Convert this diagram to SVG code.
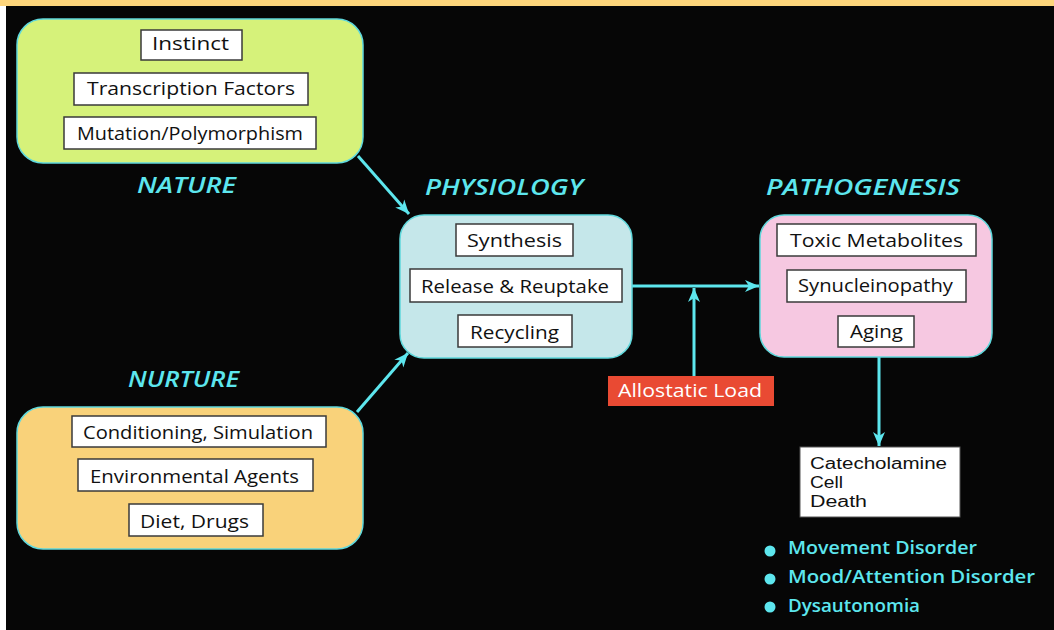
<svg xmlns="http://www.w3.org/2000/svg" width="1054" height="630" viewBox="0 0 1054 630">
<defs>
<style>
.outer{stroke:#5fd8dc;stroke-width:1.5}
.inner{fill:#ffffff;stroke:#3a3a3a;stroke-width:1.5}
.t{font-family:"Open Sans","Liberation Sans",sans-serif;font-size:18.5px;fill:#111111}
.s{font-family:"Liberation Sans",Arial,sans-serif;font-size:16px;fill:#111111}
.h{font-family:"Open Sans","Liberation Sans",sans-serif;font-size:22px;font-style:italic;font-weight:600;fill:#5de6ee}
.b{font-family:"Open Sans","Liberation Sans",sans-serif;font-size:18px;font-weight:600;fill:#5de6ee}
.w{font-family:"Open Sans","Liberation Sans",sans-serif;font-size:18.5px;fill:#ffffff}
.c{stroke:#5de6ee;stroke-width:3;fill:none}
</style>
<marker id="ah" markerUnits="userSpaceOnUse" markerWidth="16" markerHeight="14" refX="14" refY="7" orient="auto">
<path d="M0,1 L14,7 L0,13 L4,7 Z" fill="#5de6ee"/>
</marker>
</defs>
<rect x="0" y="0" width="1054" height="630" fill="#060606"/>
<rect x="0" y="0" width="6" height="630" fill="#ffffff"/>
<rect x="0" y="0" width="1054" height="6" fill="#fdd57b"/>

<g id="connectors">
<line class="c" x1="358" y1="156" x2="409" y2="214" marker-end="url(#ah)"/>
<line class="c" x1="357" y1="412" x2="408" y2="353" marker-end="url(#ah)"/>
<line class="c" x1="632" y1="286" x2="759" y2="286" marker-end="url(#ah)"/>
<line class="c" x1="694" y1="376" x2="694" y2="288" marker-end="url(#ah)"/>
<line class="c" x1="879" y1="357" x2="879" y2="446" marker-end="url(#ah)"/>
</g>

<g id="nature">
<rect class="outer" x="17" y="19" width="346" height="144" rx="26" fill="#d6f27a"/>
<rect class="inner" x="141" y="30" width="101" height="30"/>
<text class="t" x="152" y="50" textLength="77" lengthAdjust="spacingAndGlyphs">Instinct</text>
<rect class="inner" x="74" y="73" width="234" height="32"/>
<text class="t" x="87" y="95" textLength="208" lengthAdjust="spacingAndGlyphs">Transcription Factors</text>
<rect class="inner" x="64" y="117" width="252" height="32"/>
<text class="t" x="77" y="140" textLength="226" lengthAdjust="spacingAndGlyphs">Mutation/Polymorphism</text>
<text class="h" x="137" y="193" textLength="99" lengthAdjust="spacingAndGlyphs">NATURE</text>
</g>

<g id="nurture">
<rect class="outer" x="17" y="407" width="346" height="142" rx="26" fill="#f9d27a"/>
<rect class="inner" x="72" y="416" width="254" height="31"/>
<text class="t" x="83" y="439" textLength="230" lengthAdjust="spacingAndGlyphs">Conditioning, Simulation</text>
<rect class="inner" x="78" y="459" width="235" height="32"/>
<text class="t" x="90" y="483" textLength="209" lengthAdjust="spacingAndGlyphs">Environmental Agents</text>
<rect class="inner" x="129" y="504" width="134" height="32"/>
<text class="t" x="140" y="528" textLength="109" lengthAdjust="spacingAndGlyphs">Diet, Drugs</text>
<text class="h" x="128" y="387" textLength="111" lengthAdjust="spacingAndGlyphs">NURTURE</text>
</g>

<g id="physiology">
<rect class="outer" x="400" y="215" width="232" height="143" rx="24" fill="#c5e7ea"/>
<rect class="inner" x="456" y="224" width="117" height="32"/>
<text class="t" x="467" y="247" textLength="95" lengthAdjust="spacingAndGlyphs">Synthesis</text>
<rect class="inner" x="410" y="269" width="212" height="33"/>
<text class="t" x="421" y="293" textLength="188" lengthAdjust="spacingAndGlyphs">Release &amp; Reuptake</text>
<rect class="inner" x="458" y="315" width="114" height="32"/>
<text class="t" x="470" y="339" textLength="89" lengthAdjust="spacingAndGlyphs">Recycling</text>
<text class="h" x="425" y="195" textLength="158" lengthAdjust="spacingAndGlyphs">PHYSIOLOGY</text>
</g>

<g id="pathogenesis">
<rect class="outer" x="760" y="215" width="232" height="142" rx="24" fill="#f6c8e1"/>
<rect class="inner" x="777" y="224" width="199" height="32"/>
<text class="t" x="790" y="247" textLength="173" lengthAdjust="spacingAndGlyphs">Toxic Metabolites</text>
<rect class="inner" x="787" y="270" width="179" height="32"/>
<text class="t" x="798" y="292" textLength="155" lengthAdjust="spacingAndGlyphs">Synucleinopathy</text>
<rect class="inner" x="838" y="316" width="76" height="31"/>
<text class="t" x="850" y="338" textLength="53" lengthAdjust="spacingAndGlyphs">Aging</text>
<text class="h" x="766" y="195" textLength="194" lengthAdjust="spacingAndGlyphs">PATHOGENESIS</text>
</g>

<g id="allostatic-load">
<rect x="608" y="376" width="166" height="30" fill="#e94a33"/>
<text class="w" x="618" y="397" textLength="144" lengthAdjust="spacingAndGlyphs">Allostatic Load</text>
</g>

<g id="cell-death">
<rect x="800" y="447" width="160" height="70" fill="#ffffff" stroke="#555555" stroke-width="1"/>
<text class="s" x="810" y="469" textLength="137" lengthAdjust="spacingAndGlyphs">Catecholamine</text>
<text class="s" x="810" y="488" textLength="33" lengthAdjust="spacingAndGlyphs">Cell</text>
<text class="s" x="810" y="507" textLength="57" lengthAdjust="spacingAndGlyphs">Death</text>
</g>

<g id="outcomes">
<circle cx="770" cy="551" r="5.5" fill="#5de6ee"/>
<text class="b" x="788" y="554" textLength="189" lengthAdjust="spacingAndGlyphs">Movement Disorder</text>
<circle cx="770" cy="579" r="5.5" fill="#5de6ee"/>
<text class="b" x="788" y="583" textLength="247" lengthAdjust="spacingAndGlyphs">Mood/Attention Disorder</text>
<circle cx="770" cy="607" r="5.5" fill="#5de6ee"/>
<text class="b" x="788" y="612" textLength="132" lengthAdjust="spacingAndGlyphs">Dysautonomia</text>
</g>
</svg>
